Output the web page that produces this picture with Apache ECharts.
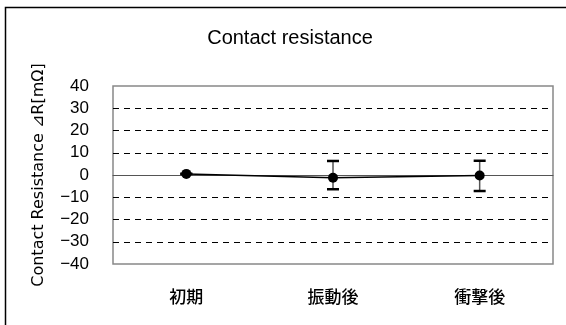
<!DOCTYPE html>
<html><head><meta charset="utf-8">
<script src="https://cdn.jsdelivr.net/npm/echarts@6/dist/echarts.min.js"></script>
<style>html,body{margin:0;padding:0;background:#fff}#c{width:566px;height:325px}</style>
</head><body><div id="c"></div>
<script>
const categories = ['初期', '振動後', '衝撃後'];
const meanValues = [0.5, -1.2, -0.2];
const errUpper = [0.5, 6.3, 6.4];
const errLower = [0.5, -6.4, -7.2];
const yTicks = [-40, -30, -20, -10, 0, 10, 20, 30, 40];

const chart = echarts.init(document.getElementById('c'));
const errData = categories.map((c, i) => [i, errLower[i], errUpper[i]]);
const frame = {type: 'rect', shape: {x: 5.5, y: 7.5, width: 600, height: 400}, style: {fill: 'none', stroke: '#000', lineWidth: 1.5}, z: -1};
chart.setOption({
  animation: false,
  title: {text: 'Contact resistance', left: 285, top: 23, textAlign: 'center',
    textStyle: {fontFamily: 'Liberation Sans, Arial', fontWeight: 'normal', fontSize: 20, color: '#000'}},
  grid: {left: 113, right: 13, top: 86, bottom: 61, show: true, borderColor: '#888', borderWidth: 1.5},
  xAxis: {type: 'category', data: categories, boundaryGap: true,
    axisLine: {onZero: true, lineStyle: {color: '#555', width: 1}},
    axisTick: {inside: true, length: 5, lineStyle: {color: '#555'}},
    axisLabel: {show: false}},
  yAxis: {type: 'value', min: yTicks[0], max: yTicks[yTicks.length - 1], interval: 10,
    name: 'Contact Resistance ⊿R[mΩ]', nameLocation: 'middle', nameGap: 66, nameRotate: 90,
    nameTextStyle: {fontFamily: 'DejaVu Sans', fontSize: 16, color: '#000'},
    axisLine: {show: false}, axisTick: {show: false},
    axisLabel: {fontFamily: 'Liberation Sans, Arial', fontSize: 17, color: '#000', margin: 24,
      formatter: v => v < 0 ? '\u2212' + Math.abs(v) : String(v)},
    splitLine: {showMinLine: false, showMaxLine: false, lineStyle: {color: '#000', type: [6, 5], width: 1}}},
  series: [
    {type: 'custom', data: errData, z: 3,
      renderItem: function (params, api) {
        const x = api.coord([api.value(0), 0])[0];
        const lo = api.coord([api.value(0), api.value(1)])[1];
        const hi = api.coord([api.value(0), api.value(2)])[1];
        const w = 6;
        return {type: 'group', children: [
          {type: 'line', shape: {x1: x, y1: lo, x2: x, y2: hi}, style: {stroke: '#555', lineWidth: 1.5}},
          {type: 'line', shape: {x1: x - w, y1: hi, x2: x + w, y2: hi}, style: {stroke: '#000', lineWidth: 2.5}},
          {type: 'line', shape: {x1: x - w, y1: lo, x2: x + w, y2: lo}, style: {stroke: '#000', lineWidth: 2.5}}
        ]};
      }},
    {type: 'line', data: meanValues, symbol: 'circle', symbolSize: 10, z: 4,
      lineStyle: {color: '#000', width: 1.5}, itemStyle: {color: '#000'}}
  ]
});
const labels = categories.map((c, i) => {
  const p = chart.convertToPixel({xAxisIndex: 0, yAxisIndex: 0}, [i, yTicks[0]]);
  return {type: 'text', x: p[0], y: 297, style: {text: c, textAlign: 'center', textVerticalAlign: 'middle',
    font: '500 17px "Noto Sans CJK JP", sans-serif', fill: '#000'}};
});
chart.setOption({graphic: [frame].concat(labels)});
</script></body></html>
